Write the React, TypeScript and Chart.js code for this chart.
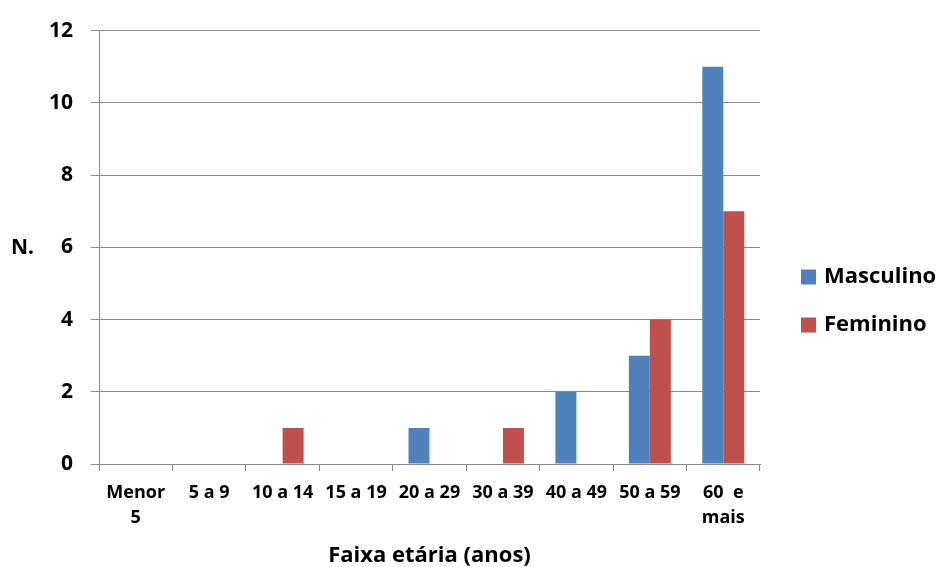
import React, { useEffect, useRef } from "react";
import { Chart, registerables } from "chart.js";

Chart.register(...registerables);

// Age groups (multi-line labels are arrays)
const categories: (string | string[])[] = [
  ["Menor", "5"],
  "5 a 9",
  "10 a 14",
  "15 a 19",
  "20 a 29",
  "30 a 39",
  "40 a 49",
  "50 a 59",
  ["60  e", "mais"],
];
const masculino = [0, 0, 0, 0, 1, 0, 2, 3, 11];
const feminino = [0, 0, 1, 0, 0, 1, 0, 4, 7];
const yTickValues = [0, 2, 4, 6, 8, 10, 12];
const seriesNames = ["Masculino", "Feminino"];
const seriesColors = ["#4F81BD", "#C0504D"];
const yTitle = "N.";
const xTitle = "Faixa etária (anos)";

const FONT = "'Open Sans', sans-serif";
const GRID = "#8A8A8A";

// Draws the horizontal y title and the legend on the right side
const sideText = {
  id: "sideText",
  afterDraw(chart: any) {
    const { ctx, chartArea } = chart;
    ctx.save();
    ctx.fillStyle = "#000";
    ctx.font = `bold 21px ${FONT}`;
    ctx.textAlign = "center";
    ctx.textBaseline = "middle";
    ctx.fillText(yTitle, 22.5, (chartArea.top + chartArea.bottom) / 2 + 1);

    const boxX = chartArea.right + 41;
    chart.data.datasets.forEach((ds: any, i: number) => {
      const cy = 277 + i * 48;
      ctx.fillStyle = ds.backgroundColor;
      ctx.fillRect(boxX, cy - 7.5, 15, 15);
      ctx.fillStyle = "#000";
      ctx.font = `bold 22px ${FONT}`;
      ctx.textAlign = "left";
      ctx.fillText(ds.label, boxX + 23, cy);
    });
    ctx.restore();
  },
};

export default function App() {
  const canvasRef = useRef<HTMLCanvasElement | null>(null);

  useEffect(() => {
    if (!canvasRef.current) return;
    const chart = new Chart(canvasRef.current, {
      type: "bar",
      data: {
        labels: categories,
        datasets: [
          { label: seriesNames[0], data: masculino, backgroundColor: seriesColors[0], borderWidth: 0 },
          { label: seriesNames[1], data: feminino, backgroundColor: seriesColors[1], borderWidth: 0 },
        ],
      },
      options: {
        responsive: false,
        animation: false,
        events: [],
        layout: { padding: { top: 29, right: 178, left: 0, bottom: 0 } },
        datasets: {
          bar: { categoryPercentage: 2 / 3.5, barPercentage: 1 },
        },
        plugins: {
          legend: { display: false },
          tooltip: { enabled: false },
        },
        scales: {
          x: {
            grid: {
              offset: true,
              drawOnChartArea: false,
              drawTicks: true,
              tickLength: 7,
              color: GRID,
            },
            border: { color: GRID },
            ticks: {
              color: "#000",
              font: { family: FONT, size: 18, weight: "bold", lineHeight: 25 / 18 },
              padding: 9,
              maxRotation: 0,
              autoSkip: false,
            },
            title: {
              display: true,
              text: xTitle,
              color: "#000",
              font: { family: FONT, size: 22, weight: "bold" },
              padding: { top: 0, bottom: -2 },
            },
            afterFit: (s: any) => {
              s.height = 103;
            },
          },
          y: {
            min: 0,
            max: 12,
            afterBuildTicks: (s: any) => {
              s.ticks = yTickValues.map((v) => ({ value: v }));
            },
            grid: { color: GRID, tickLength: 8 },
            border: { color: GRID },
            ticks: {
              color: "#000",
              font: { family: FONT, size: 21, weight: "bold" },
              padding: 18,
            },
            afterFit: (s: any) => {
              s.width = 99;
            },
          },
        },
      },
      plugins: [sideText],
    });
    return () => chart.destroy();
  }, []);

  return (
    <div style={{ position: "absolute", left: 0, top: 0, width: 938, height: 567, background: "#fff" }}>
      <canvas ref={canvasRef} width={938} height={567} />
    </div>
  );
}
